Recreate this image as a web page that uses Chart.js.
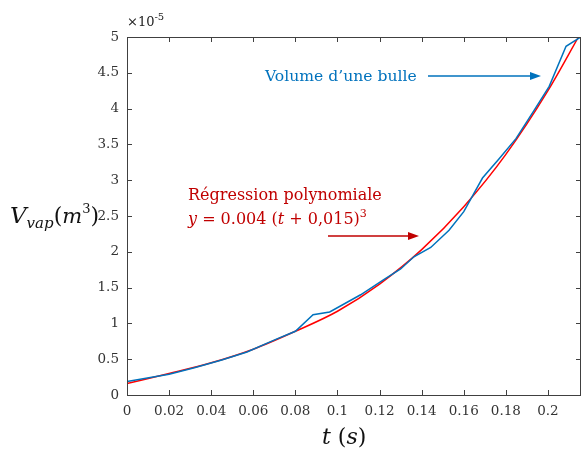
<!DOCTYPE html>
<html>
<head>
<meta charset="utf-8">
<script src="https://cdn.jsdelivr.net/npm/chart.js@4.4.0/dist/chart.umd.min.js"></script>
<style>
  html, body { margin: 0; padding: 0; background: #fff; }
  #wrap { width: 582px; height: 452px; }
</style>
</head>
<body>
<div id="wrap"><canvas id="chart" width="582" height="452"></canvas></div>
<script>
// measured bubble volume (x 1e-5 m^3)
const tMeasured = [0, 0.02, 0.032, 0.045, 0.057, 0.071, 0.08, 0.0884, 0.0963, 0.111, 0.122, 0.13,
  0.1363, 0.1443, 0.153, 0.16, 0.1649, 0.1689, 0.1768, 0.1848, 0.1935, 0.2006, 0.2086, 0.214, 0.2157];
const vMeasured = [0.19, 0.29, 0.38, 0.49, 0.60, 0.78, 0.89, 1.12, 1.16, 1.40, 1.61, 1.76,
  1.93, 2.06, 2.30, 2.56, 2.82, 3.03, 3.30, 3.58, 3.98, 4.31, 4.87, 4.97, 5.0];

// polynomial fit
const tFit = [0, 0.02, 0.04, 0.06, 0.08, 0.1, 0.12, 0.14, 0.16, 0.18, 0.2, 0.2145];
const vFit = [0.16, 0.30, 0.45, 0.64, 0.89, 1.17, 1.55, 2.03, 2.63, 3.36, 4.25, 5.0];

const xTicks = [0, 0.02, 0.04, 0.06, 0.08, 0.1, 0.12, 0.14, 0.16, 0.18, 0.2];
const yTicks = [0, 0.5, 1, 1.5, 2, 2.5, 3, 3.5, 4, 4.5, 5];

const BLUE = "#0072BD";
const RED = "#FF0000";
const DARKRED = "#C00000";
const AXIS = "#404040";
const SERIF = "'DejaVu Serif', serif";

const toPoints = (xs, ys) => xs.map((x, i) => ({ x: x, y: ys[i] }));

// inward ticks on all four sides + box
const boxTicks = {
  id: "boxTicks",
  afterDatasetsDraw(chart) {
    const { ctx, chartArea: a, scales } = chart;
    ctx.save();
    ctx.strokeStyle = AXIS;
    ctx.lineWidth = 1;
    ctx.strokeRect(a.left + 0.5, a.top + 0.5, a.right - a.left - 1, a.bottom - a.top);
    ctx.beginPath();
    xTicks.forEach((v) => {
      const px = Math.round(scales.x.getPixelForValue(v)) + 0.5;
      ctx.moveTo(px, a.bottom); ctx.lineTo(px, a.bottom - 5);
      ctx.moveTo(px, a.top); ctx.lineTo(px, a.top + 5);
    });
    yTicks.forEach((v) => {
      const py = Math.round(scales.y.getPixelForValue(v)) + 0.5;
      ctx.moveTo(a.left, py); ctx.lineTo(a.left + 5, py);
      ctx.moveTo(a.right, py); ctx.lineTo(a.right - 5, py);
    });
    ctx.stroke();
    ctx.restore();
  },
};

function arrow(ctx, x1, x2, y, color) {
  ctx.strokeStyle = color;
  ctx.fillStyle = color;
  ctx.lineWidth = 1.5;
  ctx.beginPath();
  ctx.moveTo(x1, y); ctx.lineTo(x2 - 8, y);
  ctx.stroke();
  ctx.beginPath();
  ctx.moveTo(x2, y); ctx.lineTo(x2 - 11, y - 4); ctx.lineTo(x2 - 11, y + 4);
  ctx.closePath();
  ctx.fill();
}

// draws a run of [text, font, dy] pieces
function runs(ctx, x, y, parts, color) {
  ctx.fillStyle = color;
  ctx.textBaseline = "alphabetic";
  ctx.textAlign = "left";
  parts.forEach(([s, font, dy]) => {
    ctx.font = font;
    ctx.fillText(s, x, y + (dy || 0));
    x += ctx.measureText(s).width;
  });
}

const annotations = {
  id: "annotations",
  afterDraw(chart) {
    const ctx = chart.ctx;
    ctx.save();
    // exponent
    runs(ctx, 127, 26, [["×10", "13px " + SERIF], ["-5", "10px " + SERIF, -6]], "#222");

    // blue label
    ctx.font = "15.6px " + SERIF;
    ctx.fillStyle = BLUE;
    ctx.fillText("Volume d\u2019une bulle", 265, 81);
    arrow(ctx, 428, 541, 76, BLUE);

    // red label
    ctx.font = "16px " + SERIF;
    ctx.fillStyle = DARKRED;
    ctx.fillText("Régression polynomiale", 188, 200);
    runs(ctx, 188, 224, [
      ["y", "italic 16px " + SERIF], [" = 0.004 (", "16px " + SERIF],
      ["t", "italic 16px " + SERIF], [" + 0,015)", "16px " + SERIF],
      ["3", "11px " + SERIF, -7],
    ], DARKRED);
    arrow(ctx, 328, 419, 236, DARKRED);

    // axis titles
    runs(ctx, 10, 223, [
      ["V", "italic 23px " + SERIF], ["vap", "italic 15px " + SERIF, 5],
      ["(", "22px " + SERIF], ["m", "italic 21px " + SERIF],
      ["3", "13px " + SERIF, -10], [")", "22px " + SERIF],
    ], "#111");
    runs(ctx, 322, 444, [
      ["t", "italic 22px " + SERIF], [" (", "22px " + SERIF],
      ["s", "italic 22px " + SERIF], [")", "22px " + SERIF],
    ], "#111");
    ctx.restore();
  },
};

new Chart(document.getElementById("chart").getContext("2d"), {
  type: "scatter",
  data: {
    datasets: [
      {
        label: "Volume d'une bulle",
        data: toPoints(tMeasured, vMeasured),
        showLine: true,
        borderColor: BLUE,
        backgroundColor: BLUE,
        borderWidth: 1.5,
        pointRadius: 0,
        tension: 0,
        order: 1,
      },
      {
        label: "Régression polynomiale",
        data: toPoints(tFit, vFit),
        showLine: true,
        borderColor: RED,
        backgroundColor: RED,
        borderWidth: 1.5,
        pointRadius: 0,
        cubicInterpolationMode: "monotone",
        order: 2,
      },
    ],
  },
  options: {
    responsive: false,
    animation: false,
    layout: { padding: { left: 0, top: 37, right: 1, bottom: 0 } },
    plugins: { legend: { display: false }, tooltip: { enabled: false } },
    scales: {
      x: {
        type: "linear",
        min: 0,
        max: 0.2157,
        grid: { display: false, drawTicks: false },
        border: { display: false },
        afterFit: (s) => { s.height = 57; },
        afterBuildTicks: (s) => { s.ticks = xTicks.map((v) => ({ value: v })); },
        ticks: {
          padding: 8,
          maxRotation: 0,
          autoSkip: false,
          color: "#333",
          font: { family: SERIF, size: 13.5 },
          callback: (v) => String(+v.toFixed(2)),
        },
      },
      y: {
        min: 0,
        max: 5,
        grid: { display: false, drawTicks: false },
        border: { display: false },
        afterFit: (s) => { s.width = 127; },
        afterBuildTicks: (s) => { s.ticks = yTicks.map((v) => ({ value: v })); },
        ticks: {
          padding: 8,
          autoSkip: false,
          color: "#333",
          font: { family: SERIF, size: 13.5 },
          callback: (v) => String(v),
        },
      },
    },
  },
  plugins: [boxTicks, annotations],
});
</script>
</body>
</html>
